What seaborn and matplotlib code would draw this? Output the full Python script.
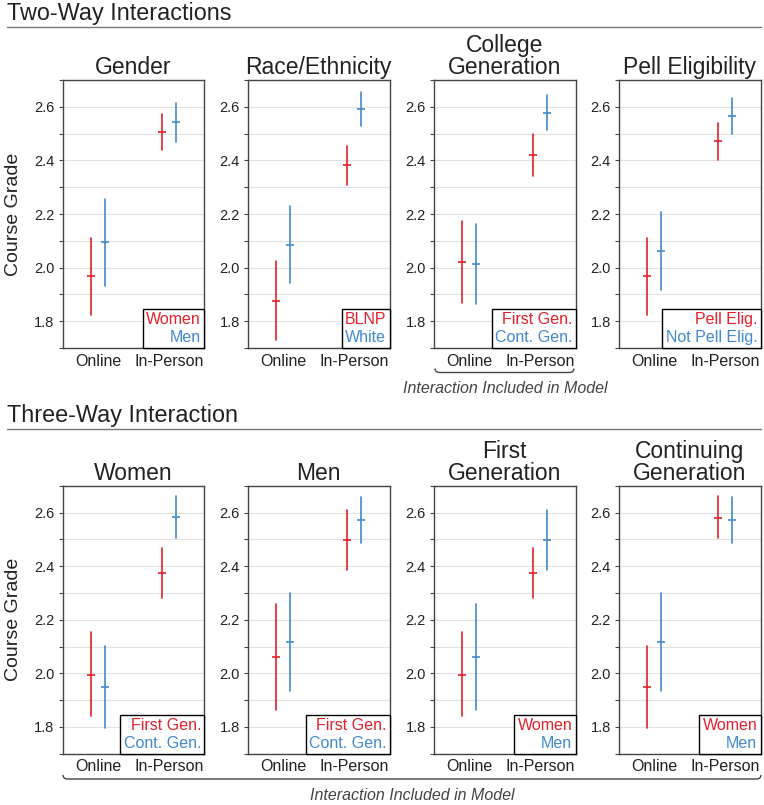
import numpy as np
import pandas as pd
import matplotlib
matplotlib.use("Agg")
import matplotlib.pyplot as plt
import seaborn as sns
from matplotlib.lines import Line2D
from matplotlib.path import Path
from matplotlib.patches import PathPatch
from matplotlib.ticker import MultipleLocator, FormatStrFormatter

# order of points in every panel: group1 Online, group2 Online, group1 In-Person, group2 In-Person
modes = ["Online", "In-Person"]

titles = ["Gender", "Race/Ethnicity", "College\nGeneration", "Pell Eligibility",
          "Women", "Men", "First\nGeneration", "Continuing\nGeneration"]
groups = [["Women", "Men"], ["BLNP", "White"], ["First Gen.", "Cont. Gen."],
          ["Pell Elig.", "Not Pell Elig."], ["First Gen.", "Cont. Gen."],
          ["First Gen.", "Cont. Gen."], ["Women", "Men"], ["Women", "Men"]]

est_gender = [1.967, 2.096, 2.505, 2.544]
lo_gender = [1.822, 1.932, 2.438, 2.469]
hi_gender = [2.109, 2.257, 2.573, 2.616]

est_race = [1.876, 2.086, 2.382, 2.593]
lo_race = [1.729, 1.943, 2.310, 2.529]
hi_race = [2.024, 2.229, 2.454, 2.655]

est_college = [2.020, 2.013, 2.422, 2.578]
lo_college = [1.868, 1.866, 2.342, 2.513]
hi_college = [2.173, 2.161, 2.500, 2.644]

est_pell = [1.967, 2.061, 2.472, 2.566]
lo_pell = [1.822, 1.916, 2.403, 2.500]
hi_pell = [2.111, 2.206, 2.539, 2.631]

est_women = [1.995, 1.950, 2.375, 2.583]
lo_women = [1.839, 1.797, 2.282, 2.506]
hi_women = [2.153, 2.101, 2.468, 2.660]

est_men = [2.061, 2.117, 2.496, 2.571]
lo_men = [1.863, 1.935, 2.385, 2.487]
hi_men = [2.258, 2.298, 2.609, 2.656]

est_firstgen = [1.995, 2.061, 2.375, 2.496]
lo_firstgen = [1.839, 1.863, 2.282, 2.385]
hi_firstgen = [2.153, 2.258, 2.468, 2.609]

est_contgen = [1.950, 2.117, 2.581, 2.571]
lo_contgen = [1.797, 1.935, 2.504, 2.487]
hi_contgen = [2.101, 2.298, 2.660, 2.656]

estimates = [est_gender, est_race, est_college, est_pell, est_women, est_men, est_firstgen, est_contgen]
lows = [lo_gender, lo_race, lo_college, lo_pell, lo_women, lo_men, lo_firstgen, lo_contgen]
highs = [hi_gender, hi_race, hi_college, hi_pell, hi_women, hi_men, hi_firstgen, hi_contgen]

RED = "#e3202b"
BLUE = "#4189cf"
TXT = "#222222"

sns.set_style("white")
plt.rcParams["font.family"] = ["Liberation Sans", "DejaVu Sans"]

W, H = 764, 805
fig = plt.figure(figsize=(W / 100, H / 100), dpi=100)

lefts = [62.7, 248, 434, 619]
pw = 141.5
row_tops = [80, 485.7]
ph = 268


def make_df(est, lo, hi, grp):
    rows = []
    for i, (e, l, h) in enumerate(zip(est, lo, hi)):
        for v in (l, e, h):
            rows.append({"Mode": modes[i // 2], "Group": grp[i % 2], "Grade": v})
    return pd.DataFrame(rows)


for k in range(8):
    r, c = divmod(k, 4)
    ax = fig.add_axes([lefts[c] / W, 1 - (row_tops[r] + ph) / H, pw / W, ph / H])
    grp = groups[k]
    df = make_df(estimates[k], lows[k], highs[k], grp)
    pal = {grp[0]: RED, grp[1]: BLUE}
    sns.pointplot(data=df, x="Mode", y="Grade", hue="Group", order=modes, hue_order=grp,
                  palette=pal, estimator="median", errorbar=lambda v: (v.min(), v.max()),
                  dodge=0.2, markers="_", linestyles="none", legend=False,
                  err_kws={"linewidth": 1.2}, markersize=6, markeredgewidth=1.2, ax=ax)
    ax.set_xlim(-0.5, 1.5)
    ax.set_ylim(1.7, 2.7)
    ax.yaxis.set_major_locator(MultipleLocator(0.2))
    ax.yaxis.set_minor_locator(MultipleLocator(0.1))
    ax.yaxis.set_major_formatter(FormatStrFormatter("%.1f"))
    ax.grid(which="both", axis="y", color="#e2e2e2", linewidth=0.8)
    ax.grid(False, axis="x")
    ax.set_axisbelow(True)
    ax.tick_params(axis="y", which="both", left=True, length=3, width=0.8, color="#444",
                   labelsize=10.5, labelcolor=TXT, pad=3)
    ax.tick_params(axis="x", length=0, labelsize=11.5, labelcolor=TXT, pad=4)
    for s in ax.spines.values():
        s.set_color("#444")
        s.set_linewidth(1.0)
    ax.set_xlabel("")
    if c == 0:
        ax.set_ylabel("Course Grade", fontsize=14, color=TXT)
        ax.yaxis.set_label_coords(-0.29, 0.5)
    else:
        ax.set_ylabel("")
    ax.set_title(titles[k], fontsize=16.5, color=TXT, pad=4, linespacing=0.95)

    handles = [Line2D([], [], color=RED, linestyle="none"), Line2D([], [], color=BLUE, linestyle="none")]
    leg = ax.legend(handles, grp, loc="lower right", borderaxespad=0, frameon=True, fancybox=False,
                    edgecolor="black", framealpha=1, handlelength=0, handletextpad=0,
                    markerfirst=False, labelcolor=[RED, BLUE], fontsize=11.5,
                    borderpad=0.2, labelspacing=0.15)
    leg.get_frame().set_linewidth(1.0)


def px(x, y):
    return (x / W, 1 - y / H)


# section headings
fig.text(*px(7, 20), "Two-Way Interactions", fontsize=16.8, color=TXT, ha="left", va="baseline")
fig.add_artist(Line2D([7 / W, 761 / W], [1 - 26.7 / H] * 2, color="#777", lw=1.0))
fig.text(*px(7, 421.7), "Three-Way Interaction", fontsize=16.8, color=TXT, ha="left", va="baseline")
fig.add_artist(Line2D([7 / W, 761 / W], [1 - 429.3 / H] * 2, color="#777", lw=1.0))


def bracket(x0, x1, y, h=4, r=5):
    verts = [px(x0, y - h), px(x0, y), px(x0 + r, y), px(x1 - r, y), px(x1, y), px(x1, y - h)]
    codes = [Path.MOVETO, Path.CURVE3, Path.CURVE3, Path.LINETO, Path.CURVE3, Path.CURVE3]
    fig.add_artist(PathPatch(Path(verts, codes), transform=fig.transFigure,
                             fill=False, edgecolor="#444", lw=1.0))


bracket(435, 574, 372.5)
fig.text(*px(505, 392.5), "Interaction Included in Model", style="italic", fontsize=11.5,
         color="#444", ha="center", va="baseline")
bracket(63, 761, 779)
fig.text(*px(412, 800), "Interaction Included in Model", style="italic", fontsize=11.5,
         color="#444", ha="center", va="baseline")

fig.savefig("out.png", dpi=100)
